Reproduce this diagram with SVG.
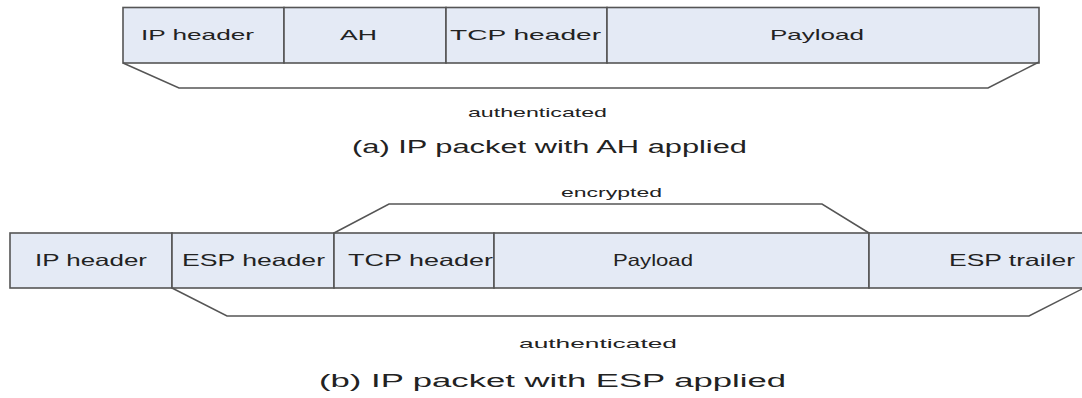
<svg xmlns="http://www.w3.org/2000/svg" width="1082" height="398" viewBox="0 0 1082 398">
  <style>
    .field { fill: #e4eaf5; stroke: #555; stroke-width: 1.6; }
    .bracket { fill: none; stroke: #555; stroke-width: 1.5; stroke-linejoin: miter; }
    text { font-family: "Liberation Sans", Arial, sans-serif; fill: #222; text-anchor: start; }
    .lbl-a { font-size: 14.5px; }
    .lbl-b { font-size: 16.5px; }
    .note { font-size: 13.5px; }
    .caption { font-size: 17.5px; }
  </style>
  <rect width="1082" height="398" fill="#fff"/>

  <!-- (a) AH packet layout -->
  <g id="a-ip-header"><rect class="field" x="123" y="7.5" width="161" height="55.5"/>
    <text class="lbl-a" x="141" y="40" textLength="113" lengthAdjust="spacingAndGlyphs">IP header</text></g>
  <g id="a-ah"><rect class="field" x="284" y="7.5" width="162" height="55.5"/>
    <text class="lbl-a" x="340" y="40" textLength="37" lengthAdjust="spacingAndGlyphs">AH</text></g>
  <g id="a-tcp-header"><rect class="field" x="446" y="7.5" width="161" height="55.5"/>
    <text class="lbl-a" x="450" y="40" textLength="151" lengthAdjust="spacingAndGlyphs">TCP header</text></g>
  <g id="a-payload"><rect class="field" x="607" y="7.5" width="432" height="55.5"/>
    <text class="lbl-a" x="770" y="40" textLength="94" lengthAdjust="spacingAndGlyphs">Payload</text></g>

  <!-- (b) ESP packet layout -->
  <g id="b-ip-header"><rect class="field" x="10" y="233" width="162" height="55"/>
    <text class="lbl-b" x="35" y="266" textLength="112" lengthAdjust="spacingAndGlyphs">IP header</text></g>
  <g id="b-esp-header"><rect class="field" x="172" y="233" width="162" height="55"/>
    <text class="lbl-b" x="182" y="266" textLength="143" lengthAdjust="spacingAndGlyphs">ESP header</text></g>
  <g id="b-tcp-header"><rect class="field" x="334" y="233" width="160" height="55"/>
    <text class="lbl-b" x="348" y="266" textLength="145" lengthAdjust="spacingAndGlyphs">TCP header</text></g>
  <g id="b-payload"><rect class="field" x="494" y="233" width="375" height="55"/>
    <text class="lbl-b" x="613" y="266" textLength="80" lengthAdjust="spacingAndGlyphs">Payload</text></g>
  <g id="b-esp-trailer"><rect class="field" x="869" y="233" width="216" height="55"/>
    <text class="lbl-b" x="949" y="266" textLength="126" lengthAdjust="spacingAndGlyphs">ESP trailer</text></g>

  <!-- coverage brackets -->
  <g id="connectors">
    <polyline class="bracket" points="123,63 179,88 988,88 1039,62"/>
    <polyline class="bracket" points="334,233 389,204 822,204 869,233"/>
    <polyline class="bracket" points="172,288 227,316 1029,316 1084,288"/>
  </g>

  <!-- bracket labels and captions -->
  <text class="note" x="468" y="117" textLength="139" lengthAdjust="spacingAndGlyphs">authenticated</text>
  <text class="caption" x="352" y="153" textLength="395" lengthAdjust="spacingAndGlyphs">(a) IP packet with AH applied</text>
  <text class="note" x="561" y="197" textLength="101" lengthAdjust="spacingAndGlyphs">encrypted</text>
  <text class="note" x="519" y="348" textLength="158" lengthAdjust="spacingAndGlyphs">authenticated</text>
  <text class="caption" x="319" y="387" textLength="467" lengthAdjust="spacingAndGlyphs">(b) IP packet with ESP applied</text>
</svg>
